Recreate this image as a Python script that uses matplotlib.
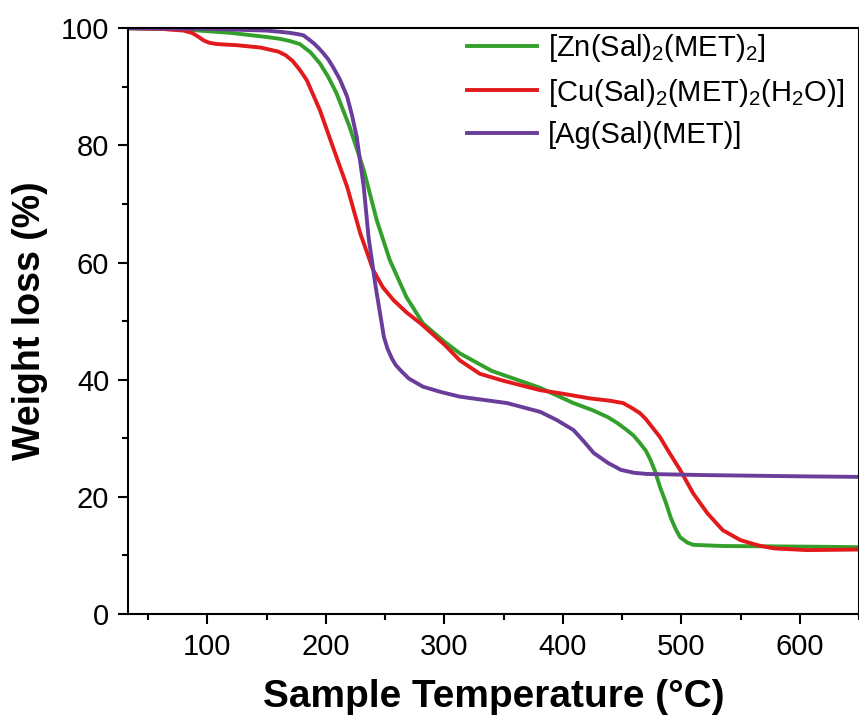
import matplotlib
matplotlib.use("Agg")
import matplotlib.pyplot as plt

plt.rcParams['font.family'] = ['Liberation Sans', 'DejaVu Sans']
plt.rcParams['mathtext.fontset'] = 'custom'
plt.rcParams['mathtext.rm'] = 'Liberation Sans'
plt.rcParams['mathtext.default'] = 'regular'

# TGA curves (temperature in °C, weight in %)
zn_temp = [33, 80, 120, 150, 161, 170, 178, 187, 195, 202, 209, 220, 232, 243,
           254, 268, 282, 300, 313, 340, 381, 409, 425, 438, 446, 454, 460, 465,
           470, 474, 478, 482, 487, 491, 495, 499, 505, 510, 535, 600, 650]
zn_weight = [100, 99.8, 99.2, 98.5, 98.2, 97.8, 97.3, 95.9, 94.0, 91.7, 88.9,
             83.2, 75.8, 67.2, 60.4, 54.1, 49.6, 46.5, 44.5, 41.5, 38.6, 36.0,
             34.8, 33.6, 32.6, 31.4, 30.4, 29.2, 27.9, 26.3, 24.3, 21.7, 19.0,
             16.5, 14.6, 13.1, 12.2, 11.8, 11.6, 11.5, 11.4]

cu_temp = [33, 60, 80, 87, 92, 97, 102, 108, 125, 145, 160, 166, 172, 178, 184,
           195, 206, 218, 229, 240, 248, 257, 268, 280, 300, 313, 330, 350, 381,
           400, 423, 440, 451, 458, 465, 470, 475, 482, 490, 499, 510, 522, 535,
           550, 565, 578, 606, 650]
cu_weight = [100, 99.9, 99.6, 99.2, 98.6, 97.9, 97.5, 97.3, 97.1, 96.7, 96.0,
             95.4, 94.4, 92.9, 91.1, 86.0, 79.7, 72.9, 65.0, 58.7, 55.8, 53.6,
             51.5, 49.6, 46.0, 43.3, 41.0, 39.8, 38.2, 37.6, 36.8, 36.4, 36.0,
             35.2, 34.3, 33.3, 32.0, 30.2, 27.5, 24.6, 20.6, 17.2, 14.3, 12.6,
             11.7, 11.2, 10.9, 11.0]

ag_temp = [33, 100, 150, 161, 170, 176, 181, 185, 190, 194, 198, 202, 206, 212,
           218, 222, 226, 232, 236, 242, 249, 252, 256, 259, 263, 270, 282, 297,
           313, 353, 381, 395, 409, 418, 426, 438, 449, 460, 471, 522, 600, 650]
ag_weight = [100, 99.9, 99.6, 99.4, 99.2, 99.0, 98.8, 98.2, 97.4, 96.6, 95.7,
             94.7, 93.4, 91.2, 88.3, 85.2, 81.5, 72.9, 64.4, 55.9, 47.3, 45.3,
             43.5, 42.5, 41.6, 40.2, 38.8, 37.9, 37.1, 36.0, 34.5, 33.1, 31.4,
             29.4, 27.5, 25.8, 24.6, 24.1, 23.9, 23.7, 23.5, 23.4]

labels = [r'[Zn(Sal)$_2$(MET)$_2$]',
          r'[Cu(Sal)$_2$(MET)$_2$(H$_2$O)]',
          r'[Ag(Sal)(MET)]']
colors = ['#33a02c', '#e31a1c', '#6a3d9a']

fig = plt.figure(figsize=(8.59, 7.24), dpi=100)
ax = fig.add_axes([0.149, 0.152, 0.851, 0.809])

ax.plot(zn_temp, zn_weight, color=colors[0], lw=2.8, label=labels[0])
ax.plot(cu_temp, cu_weight, color=colors[1], lw=2.8, label=labels[1])
ax.plot(ag_temp, ag_weight, color=colors[2], lw=2.8, label=labels[2])

ax.set_xlim(33, 650)
ax.set_ylim(0, 100)
ax.set_xticks([100, 200, 300, 400, 500, 600])
ax.set_xticks([50, 150, 250, 350, 450, 550, 650], minor=True)
ax.set_yticks([0, 20, 40, 60, 80, 100])
ax.set_yticks([10, 30, 50, 70, 90], minor=True)
ax.tick_params(which='major', direction='out', length=7.5, width=1.5, labelsize=21, pad=6)
ax.tick_params(which='minor', direction='out', length=4, width=1.5)
for s in ax.spines.values():
    s.set_linewidth(1.5)

ax.set_xlabel('Sample Temperature (°C)', fontsize=28, fontweight='bold', labelpad=13)
ax.set_ylabel('Weight loss (%)', fontsize=27, fontweight='bold', labelpad=9)

ax.legend(loc='upper right', frameon=False, fontsize=21, handlelength=2.4,
          handletextpad=0.35, labelspacing=0.42, borderaxespad=0.0,
          bbox_to_anchor=(0.995, 1.013))

fig.savefig('out.png', dpi=100)
